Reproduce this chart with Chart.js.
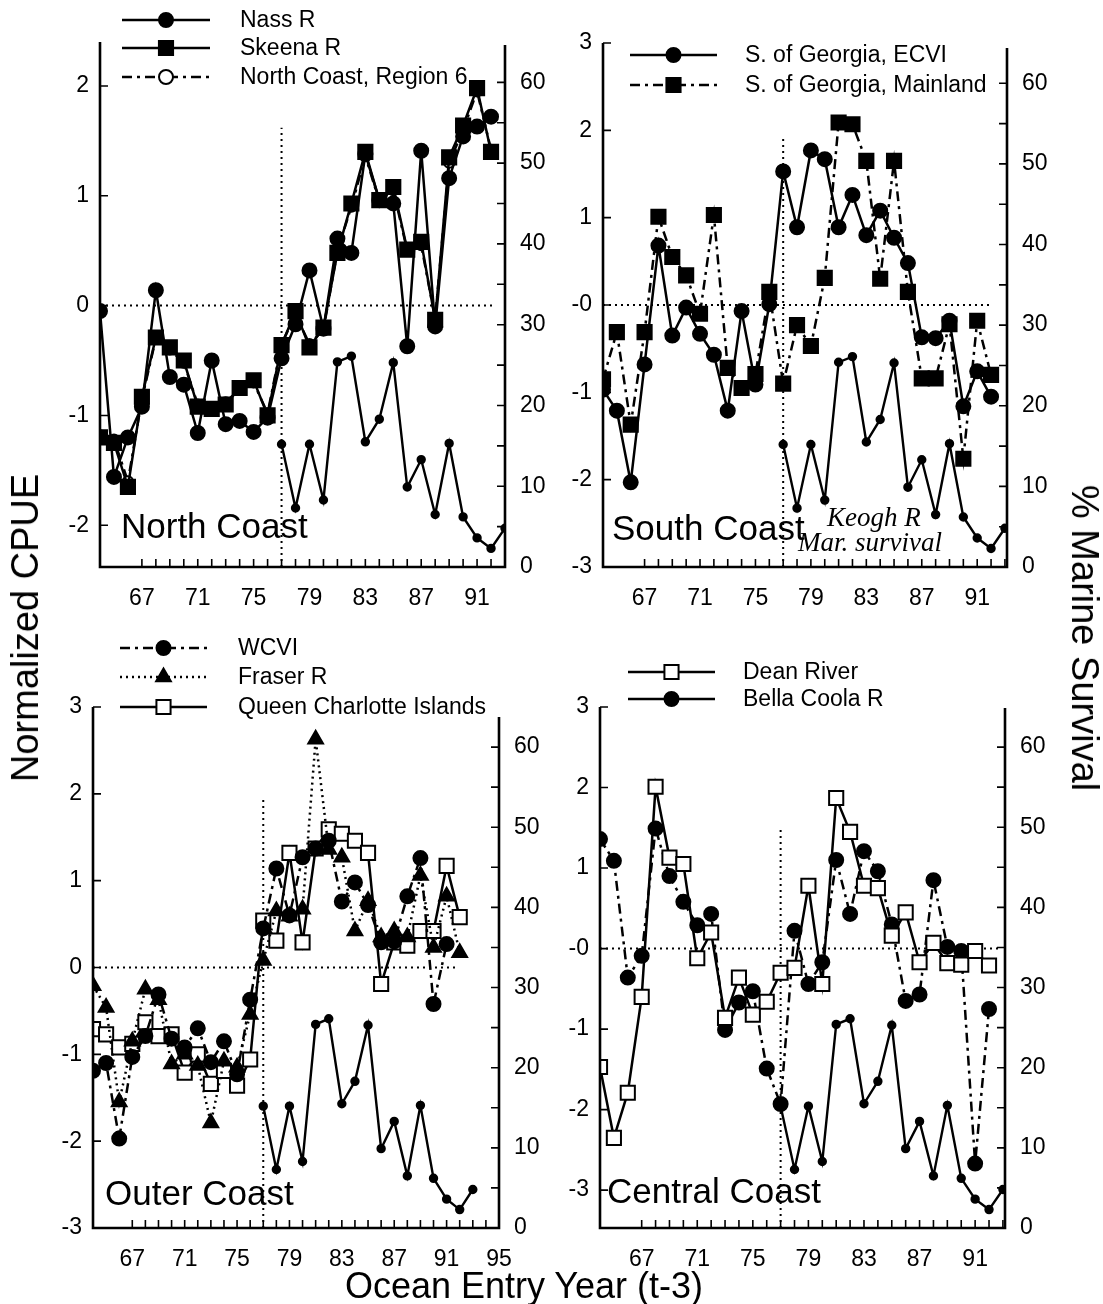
<!DOCTYPE html>
<html>
<head>
<meta charset="utf-8">
<script src="https://cdn.jsdelivr.net/npm/chart.js@4.4.0/dist/chart.umd.min.js"></script>
<style>
  body { margin: 0; background: #fff; }
  #wrap { position: relative; width: 1103px; height: 1304px; font-family: "Liberation Sans", Arial, sans-serif; color: #000; overflow: hidden; }
  canvas { position: absolute; }
  .ttl { position: absolute; white-space: nowrap; line-height: 1; }
</style>
</head>
<body>
<div id="wrap">
  <canvas id="c1" width="552" height="630" style="left:0;top:0"></canvas>
  <canvas id="c2" width="551" height="630" style="left:552px;top:0"></canvas>
  <canvas id="c3" width="552" height="674" style="left:0;top:630px"></canvas>
  <canvas id="c4" width="551" height="674" style="left:552px;top:630px"></canvas>
  <div class="ttl" style="left:25px;top:628px;font-size:38px;transform:translate(-50%,-50%) rotate(-90deg)">Normalized CPUE</div>
  <div class="ttl" style="left:1085px;top:638px;font-size:38px;transform:translate(-50%,-50%) rotate(90deg)">% Marine Survival</div>
  <div class="ttl" style="left:524px;top:1286px;font-size:36px;transform:translate(-50%,-50%)">Ocean Entry Year (t-3)</div>
</div>
<script>
// ocean entry years (19xx)
const years = [64, 65, 66, 67, 68, 69, 70, 71, 72, 73, 74, 75, 76, 77, 78, 79, 80, 81, 82, 83, 84, 85, 86, 87, 88, 89, 90, 91, 92];
const survYears = [77, 78, 79, 80, 81, 82, 83, 84, 85, 86, 87, 88, 89, 90, 91, 92, 93];

// Keogh R marine survival (%), right axis, same in every panel
const keoghSurv = [15.2, 7.3, 15.2, 8.3, 25.4, 26.1, 15.5, 18.3, 25.3, 9.9, 13.3, 6.5, 15.3, 6.2, 3.6, 2.3, 4.8];

// North Coast
const nassR = [-0.05, -1.56, -1.2, -0.92, 0.14, -0.65, -0.72, -1.16, -0.5, -1.08, -1.05, -1.15, -1.02, -0.48, -0.17, 0.32, -0.21, 0.61, 0.48, 1.38, 0.96, 0.93, -0.37, 1.41, -0.19, 1.16, 1.54, 1.63, 1.72];
const skeenaR = [-1.2, -1.25, -1.65, -0.83, -0.29, -0.38, -0.5, -0.92, -0.94, -0.9, -0.75, -0.68, -1.0, -0.36, -0.05, -0.38, -0.2, 0.48, 0.93, 1.4, 0.96, 1.08, 0.51, 0.58, -0.13, 1.35, 1.64, 1.98, 1.4];
const northRegion6 = [-1.18, -1.22, -1.6, -0.85, -0.3, -0.4, -0.52, -0.9, -0.95, -0.88, -0.76, -0.7, -0.98, -0.35, -0.08, -0.35, -0.22, 0.5, 0.9, 1.36, 0.95, 1.05, 0.5, 0.55, -0.12, 1.3, 1.6, 1.95, 1.42];

// South Coast
const georgiaECVI = [-0.97, -1.21, -2.03, -0.68, 0.68, -0.35, -0.03, -0.33, -0.57, -1.21, -0.07, -0.91, 0.01, 1.53, 0.89, 1.77, 1.67, 0.89, 1.26, 0.8, 1.08, 0.77, 0.48, -0.37, -0.38, -0.18, -1.16, -0.76, -1.05];
const georgiaMainland = [-0.85, -0.31, -1.37, -0.31, 1.01, 0.55, 0.34, -0.1, 1.03, -0.72, -0.95, -0.79, 0.15, -0.9, -0.23, -0.47, 0.31, 2.09, 2.07, 1.65, 0.3, 1.65, 0.15, -0.84, -0.84, -0.22, -1.76, -0.18, -0.8];

// Outer Coast
const wcvi = [-1.19, -1.1, -1.97, -1.03, -0.79, -0.31, -0.82, -0.92, -0.7, -1.09, -0.85, -1.23, -0.37, 0.45, 1.14, 0.6, 1.27, 1.37, 1.46, 0.76, 0.98, 0.72, 0.29, 0.3, 0.82, 1.26, -0.42, 0.27, null];
const fraserR = [-0.21, -0.46, -1.55, -0.85, -0.25, -0.37, -1.11, -1.0, -1.13, -1.79, -1.08, -1.15, -0.54, 0.08, 0.65, 0.59, 0.67, 2.63, 1.36, 1.27, 0.42, 0.77, 0.35, 0.42, 0.35, 1.06, 0.23, 0.82, 0.17];
const queenCharlotte = [-0.71, -0.77, -0.92, -0.88, -0.63, -0.79, -0.77, -1.21, -1.0, -1.34, -1.19, -1.36, -1.06, 0.54, 0.31, 1.32, 0.29, 1.37, 1.59, 1.54, 1.46, 1.32, -0.19, 0.29, 0.25, 0.42, 0.42, 1.17, 0.58];

// Central Coast
const deanRiver = [-1.47, -2.35, -1.79, -0.6, 2.01, 1.13, 1.05, -0.12, 0.2, -0.86, -0.36, -0.82, -0.66, -0.3, -0.24, 0.78, -0.44, 1.87, 1.45, 0.78, 0.75, 0.16, 0.45, -0.17, 0.07, -0.18, -0.2, -0.03, -0.21];
const bellaCoolaR = [1.36, 1.09, -0.36, -0.09, 1.49, 0.9, 0.58, 0.29, 0.43, -1.01, -0.67, -0.53, -1.49, -1.93, 0.22, -0.44, -0.17, 1.1, 0.43, 1.21, 0.96, 0.3, -0.65, -0.57, 0.85, 0.02, -0.03, -2.67, -0.75];

// tick labels
const xLabelsTop = [67, 71, 75, 79, 83, 87, 91];
const xLabelsOuter = [67, 71, 75, 79, 83, 87, 91, 95];
const cpueTicks2 = [-2, -1, 0, 1, 2];
const cpueTicks3 = [-3, -2, -1, 0, 1, 2, 3];
const survTicks = [0, 10, 20, 30, 40, 50, 60];

const FONT = '"Liberation Sans", Arial, sans-serif';
Chart.defaults.font.family = FONT;
Chart.defaults.color = '#000';

const DASHDOT = [10, 5, 3, 5];
const DOTTED = [2, 4];

function pts(xs, ys) {
  return xs.map((x, i) => ({ x: x, y: ys[i] }));
}

function series(label, xs, ys, style, filled, r, dash) {
  return {
    label: label,
    data: pts(xs, ys),
    borderColor: '#000',
    borderWidth: 2.5,
    borderDash: dash || [],
    pointStyle: style,
    pointRadius: r,
    pointBackgroundColor: filled ? '#000' : '#fff',
    pointBorderColor: '#000',
    pointBorderWidth: 2,
    tension: 0,
    yAxisID: 'y'
  };
}

function survival() {
  return {
    label: 'Keogh R',
    data: pts(survYears, keoghSurv),
    borderColor: '#000',
    borderWidth: 2.4,
    pointStyle: 'circle',
    pointRadius: 3.5,
    pointBackgroundColor: '#000',
    pointBorderColor: '#000',
    tension: 0,
    yAxisID: 'y2'
  };
}

function refLine(a, b) {
  return {
    label: '',
    data: [a, b],
    borderColor: '#000',
    borderWidth: 2,
    borderDash: DOTTED,
    pointRadius: 0,
    yAxisID: 'y'
  };
}

const deco = {
  id: 'deco',
  afterDraw(chart, args, o) {
    const ctx = chart.ctx;
    const a = chart.chartArea;
    const sx = chart.scales.x, sy = chart.scales.y, s2 = chart.scales.y2;
    ctx.save();
    ctx.strokeStyle = '#000';
    ctx.fillStyle = '#000';
    ctx.setLineDash([]);
    ctx.lineWidth = 2.6;
    ctx.beginPath();
    ctx.moveTo(a.left, a.top);
    ctx.lineTo(a.left, a.bottom);
    ctx.lineTo(a.right, a.bottom);
    ctx.lineTo(a.right, a.top + o.rTop);
    ctx.stroke();

    // inside tick marks
    ctx.lineWidth = 1.6;
    ctx.beginPath();
    for (let v = 67; v <= sx.max + 1e-6; v++) {
      const px = sx.getPixelForValue(v);
      ctx.moveTo(px, a.bottom);
      ctx.lineTo(px, a.bottom - 8);
    }
    o.yTicks.forEach(v => {
      const py = sy.getPixelForValue(v);
      ctx.moveTo(a.left, py);
      ctx.lineTo(a.left + 8, py);
    });
    for (let v = 5; v <= 60; v += 5) {
      const py = s2.getPixelForValue(v);
      ctx.moveTo(a.right, py);
      ctx.lineTo(a.right - 8, py);
    }
    ctx.stroke();

    // legend: line + marker + text
    const lg = o.legend;
    lg.items.forEach((it, i) => {
      const ds = chart.data.datasets[it.ds];
      const y = lg.rows[i];
      ctx.lineWidth = 2.4;
      ctx.setLineDash(it.dash || ds.borderDash || []);
      ctx.beginPath();
      ctx.moveTo(lg.x1, y);
      ctx.lineTo(lg.x2, y);
      ctx.stroke();
      ctx.setLineDash([]);
      ctx.fillStyle = ds.pointBackgroundColor;
      ctx.strokeStyle = '#000';
      ctx.lineWidth = 2;
      Chart.helpers.drawPoint(ctx, { pointStyle: ds.pointStyle, radius: it.r || ds.pointRadius, rotation: 0, borderWidth: 2 }, (lg.x1 + lg.x2) / 2, y);
      ctx.fillStyle = '#000';
      ctx.font = '23px ' + FONT;
      ctx.textBaseline = 'middle';
      ctx.textAlign = 'left';
      ctx.fillText(ds.label, lg.tx, y + 1);
    });

    // panel names and notes
    ctx.fillStyle = '#000';
    ctx.textBaseline = 'alphabetic';
    o.texts.forEach(t => {
      ctx.font = t.font;
      ctx.fillText(t.text, t.x, t.y);
    });
    ctx.restore();
  }
};

function makePanel(id, p) {
  new Chart(document.getElementById(id), {
    type: 'line',
    data: { datasets: p.datasets },
    plugins: [deco],
    options: {
      responsive: false,
      animation: false,
      events: [],
      layout: { padding: { top: p.top, left: 0, right: 0, bottom: 0 } },
      plugins: {
        legend: { display: false },
        tooltip: { enabled: false },
        deco: { rTop: p.rTop, yTicks: p.yTicks, legend: p.legend, texts: p.texts }
      },
      scales: {
        x: {
          type: 'linear',
          min: p.xMin, max: p.xMax,
          grid: { display: false, drawTicks: false },
          border: { display: false },
          afterBuildTicks: s => { s.ticks = p.xLabels.map(v => ({ value: v })); },
          afterFit: s => { s.height = p.xH; },
          ticks: { padding: 18, autoSkip: false, maxRotation: 0, font: { size: 23 }, color: '#000', callback: v => String(v) }
        },
        y: {
          type: 'linear', position: 'left',
          min: p.yMin, max: p.yMax,
          grid: { display: false, drawTicks: false },
          border: { display: false },
          afterBuildTicks: s => { s.ticks = p.yTicks.map(v => ({ value: v })); },
          afterFit: s => { s.width = p.yW; },
          ticks: { padding: 11, font: { size: 23 }, color: '#000', callback: v => (v === 0 ? p.zeroLabel : String(v)) }
        },
        y2: {
          type: 'linear', position: 'right',
          min: 0, max: 65,
          grid: { display: false, drawTicks: false },
          border: { display: false },
          afterBuildTicks: s => { s.ticks = survTicks.map(v => ({ value: v })); },
          afterFit: s => { s.width = p.y2W; },
          ticks: { padding: 15, font: { size: 23 }, color: '#000', callback: v => String(v) }
        }
      }
    }
  });
}

const TITLE = '35px ' + FONT;

// North Coast
makePanel('c1', {
  xMin: 64, xMax: 93, yMin: -2.38, yMax: 2.4,
  top: 42, yW: 100, y2W: 47, xH: 63, rTop: 3,
  xLabels: xLabelsTop, yTicks: cpueTicks2, zeroLabel: '0',
  datasets: [
    series('Nass R', years, nassR, 'circle', true, 7),
    series('Skeena R', years, skeenaR, 'rect', true, 10),
    series('North Coast, Region 6', years, northRegion6, 'circle', false, 5, DASHDOT),
    survival(),
    refLine({ x: 64, y: 0 }, { x: 92.1, y: 0 }),
    refLine({ x: 77, y: -2.38 }, { x: 77, y: 1.62 })
  ],
  legend: { x1: 122, x2: 210, tx: 240, rows: [20, 48, 77], items: [{ ds: 0 }, { ds: 1 }, { ds: 2, r: 7 }] },
  texts: [{ text: 'North Coast', x: 121, y: 538, font: TITLE }]
});

// South Coast
makePanel('c2', {
  xMin: 64, xMax: 93.15, yMin: -3, yMax: 3,
  top: 43, yW: 51, y2W: 96, xH: 63, rTop: 5,
  xLabels: xLabelsTop, yTicks: cpueTicks3, zeroLabel: '-0',
  datasets: [
    series('S. of Georgia, ECVI', years, georgiaECVI, 'circle', true, 7),
    series('S. of Georgia, Mainland', years, georgiaMainland, 'rect', true, 10, DASHDOT),
    survival(),
    refLine({ x: 64, y: 0 }, { x: 91.9, y: 0 }),
    refLine({ x: 77, y: -3 }, { x: 77, y: 1.92 })
  ],
  legend: { x1: 78, x2: 165, tx: 193, rows: [55, 85], items: [{ ds: 0 }, { ds: 1 }] },
  texts: [
    { text: 'South Coast', x: 60, y: 540, font: TITLE },
    { text: 'Keogh R', x: 275, y: 526, font: 'italic 27px "Liberation Serif", "Times New Roman", serif' },
    { text: 'Mar. survival', x: 246, y: 551, font: 'italic 27px "Liberation Serif", "Times New Roman", serif' }
  ]
});

// Outer Coast
makePanel('c3', {
  xMin: 64, xMax: 95, yMin: -3, yMax: 3,
  top: 77, yW: 93, y2W: 53, xH: 76, rTop: 10,
  xLabels: xLabelsOuter, yTicks: cpueTicks3, zeroLabel: '0',
  datasets: [
    series('WCVI', years, wcvi, 'circle', true, 7, DASHDOT),
    series('Fraser R', years, fraserR, 'triangle', true, 8.5, DOTTED),
    series('Queen Charlotte Islands', years, queenCharlotte, 'rect', false, 10),
    survival(),
    refLine({ x: 64, y: 0 }, { x: 91.9, y: 0 }),
    refLine({ x: 77, y: -3 }, { x: 77, y: 1.95 })
  ],
  legend: { x1: 120, x2: 207, tx: 238, rows: [18, 47, 77], items: [{ ds: 0 }, { ds: 1 }, { ds: 2 }] },
  texts: [{ text: 'Outer Coast', x: 105, y: 575, font: TITLE }]
});

// Central Coast
makePanel('c4', {
  xMin: 64, xMax: 93.15, yMin: -3.47, yMax: 3.0,
  top: 77, yW: 48, y2W: 98, xH: 76, rTop: 1,
  xLabels: xLabelsTop, yTicks: cpueTicks3, zeroLabel: '-0',
  datasets: [
    series('Dean River', years, deanRiver, 'rect', false, 10),
    series('Bella Coola R', years, bellaCoolaR, 'circle', true, 7, DASHDOT),
    survival(),
    refLine({ x: 64, y: 0 }, { x: 92.7, y: 0 }),
    refLine({ x: 77, y: -3.47 }, { x: 77, y: 1.48 })
  ],
  legend: { x1: 76, x2: 163, tx: 191, rows: [42, 69], items: [{ ds: 0 }, { ds: 1, dash: [] }] },
  texts: [{ text: 'Central Coast', x: 55, y: 573, font: TITLE }]
});
</script>
</body>
</html>
